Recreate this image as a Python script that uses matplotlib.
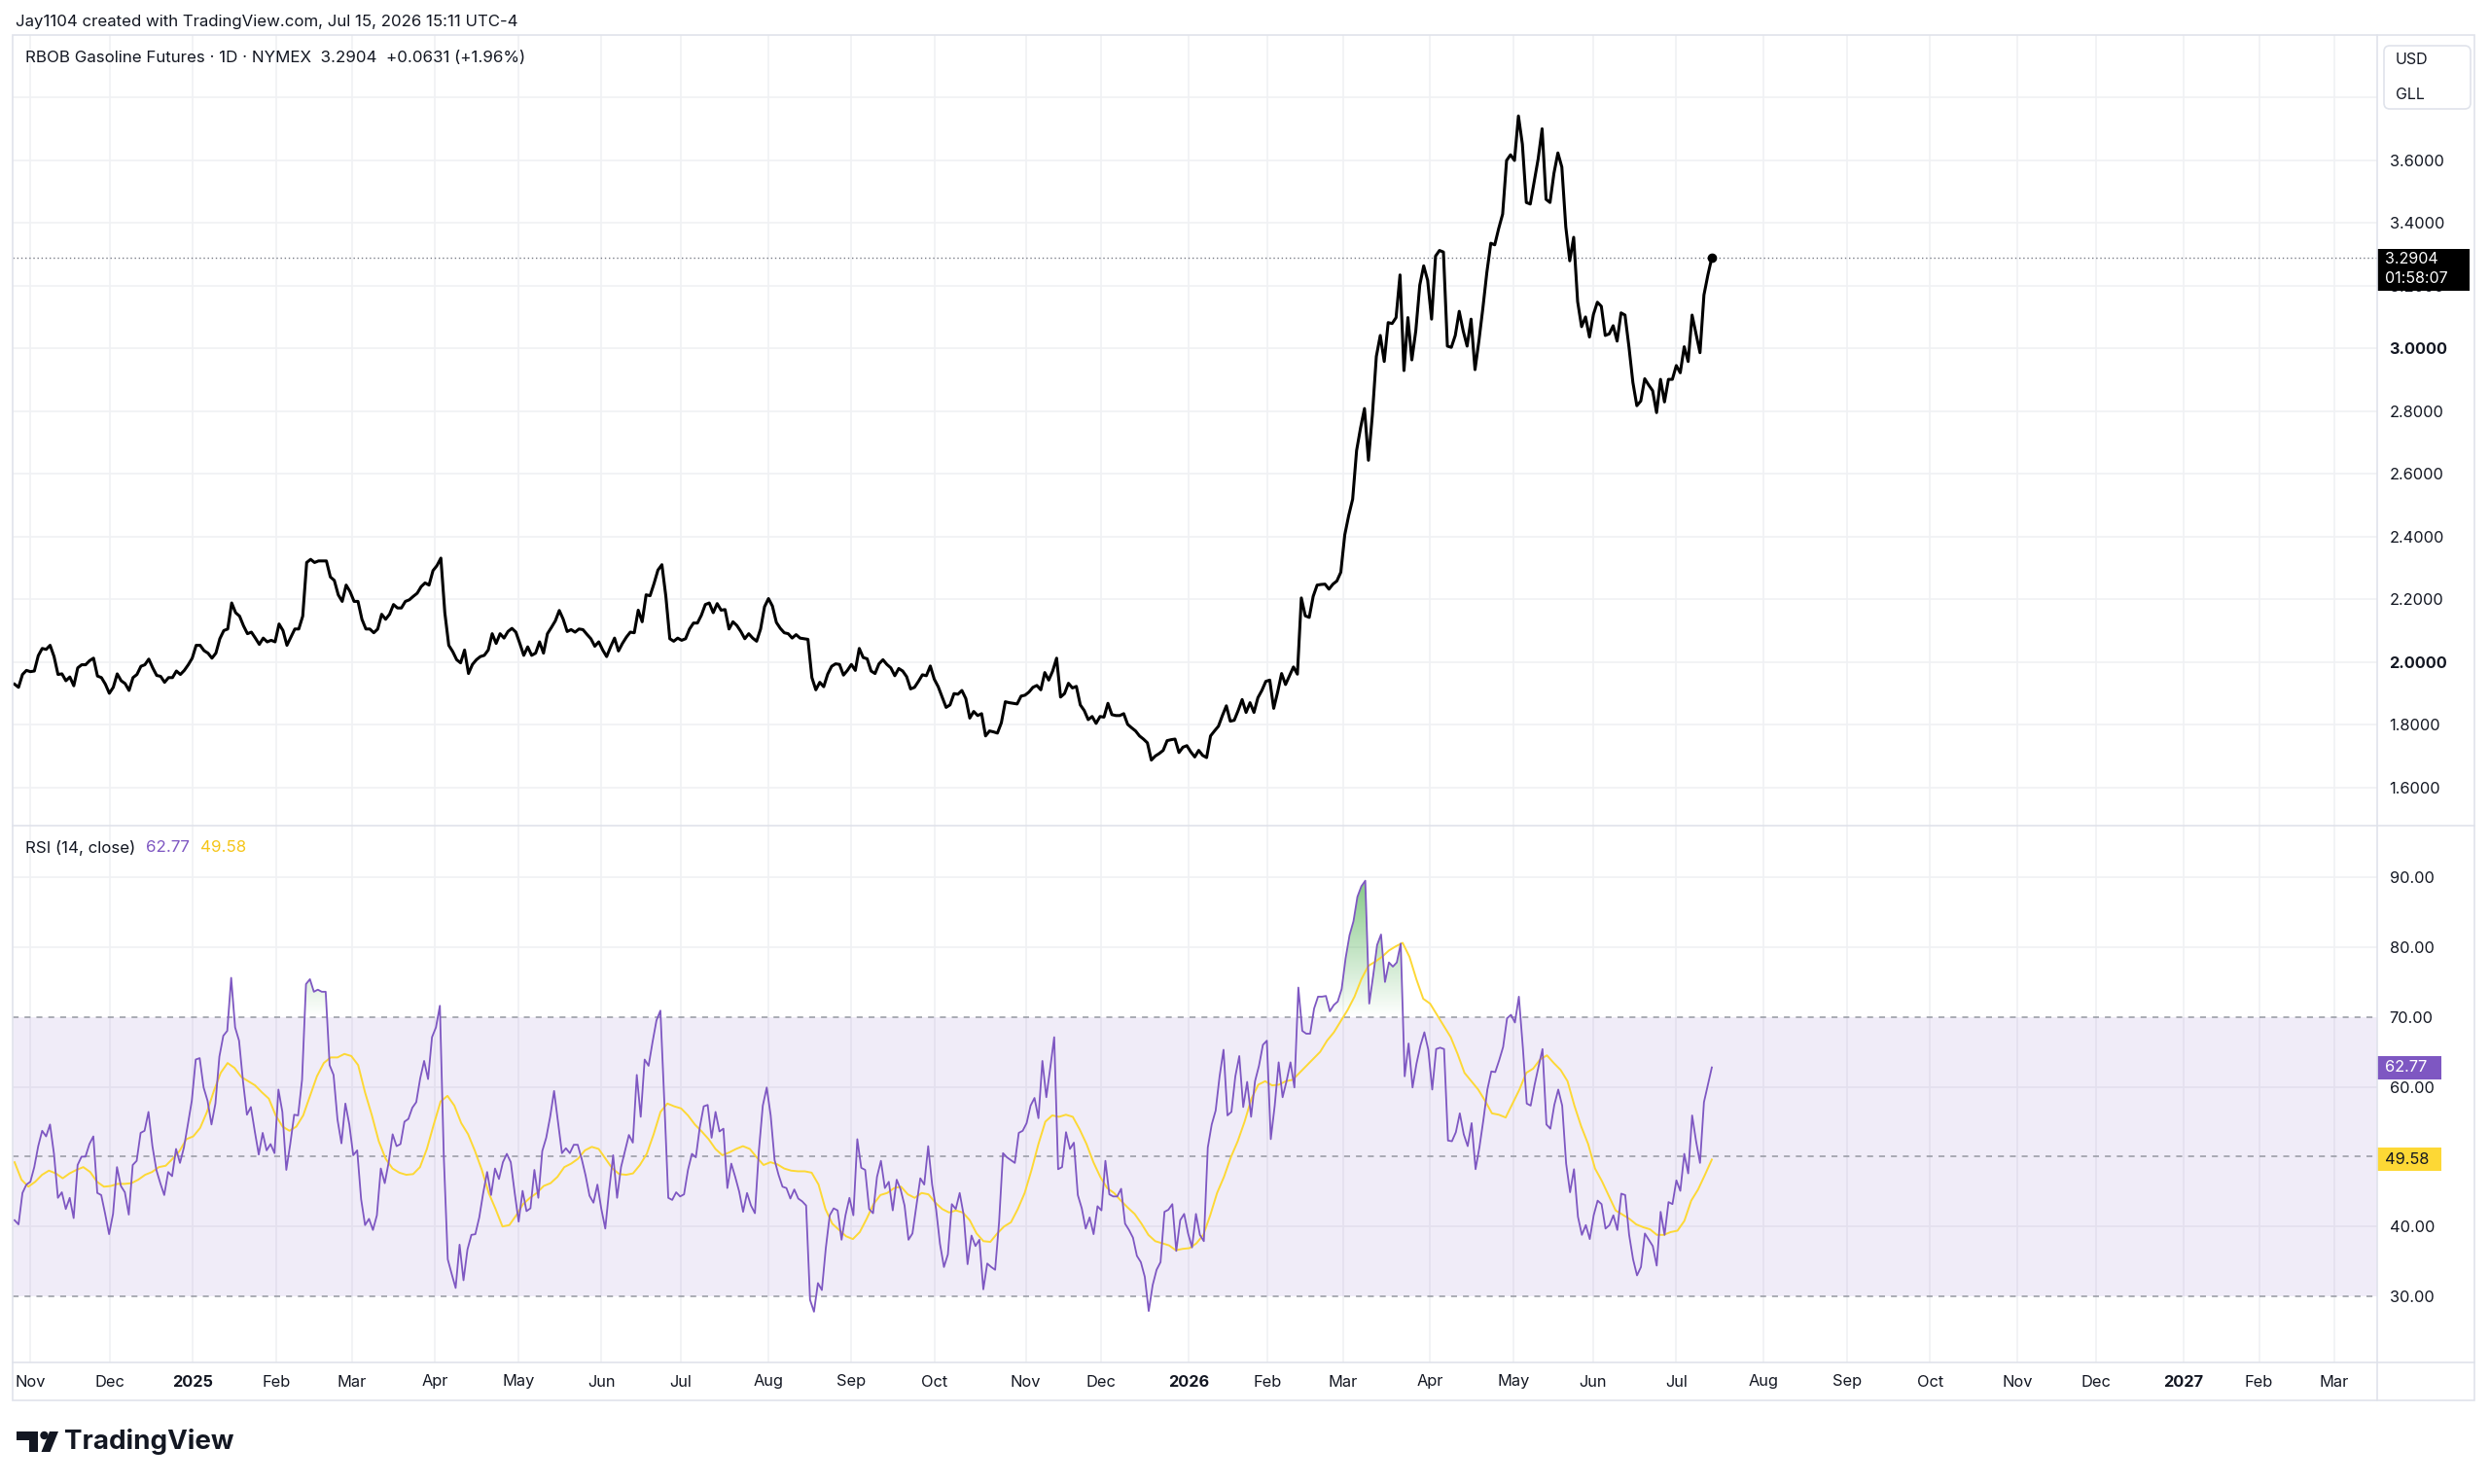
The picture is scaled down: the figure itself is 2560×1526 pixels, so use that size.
import matplotlib
matplotlib.use("Agg")
import matplotlib.pyplot as plt
import numpy as np
import pandas as pd
from matplotlib.patches import Rectangle, FancyBboxPatch, Polygon, Circle
from matplotlib.path import Path
from matplotlib.colors import LinearSegmentedColormap

plt.rcParams['font.family'] = ['Inter', 'DejaVu Sans']

# ---- data ----
first_day = "2024-10-28"
last_day = "2026-07-15"
axis_end = "2027-03-31"
holidays = ["2024-11-28", "2024-12-25", "2025-01-01", "2025-01-20", "2025-02-17",
            "2025-04-18", "2025-05-26", "2025-06-19", "2025-07-04", "2025-09-01",
            "2025-11-27", "2025-12-25", "2026-01-01", "2026-01-19", "2026-02-16",
            "2026-04-03", "2026-05-25", "2026-06-19", "2026-07-03", "2026-09-07",
            "2026-11-26", "2026-12-25", "2027-01-01", "2027-01-18", "2027-02-15"]
month_abbr = ["Jan", "Feb", "Mar", "Apr", "May", "Jun",
              "Jul", "Aug", "Sep", "Oct", "Nov", "Dec"]

# RBOB daily close, USD/gal
price = [
    1.930, 1.920, 1.961, 1.974, 1.970, 1.972, 2.021, 2.044, 2.041, 2.054,
    2.018, 1.961, 1.963, 1.941, 1.953, 1.925, 1.982, 1.992, 1.992, 2.005,
    2.013, 1.956, 1.951, 1.930, 1.901, 1.920, 1.963, 1.941, 1.932, 1.910,
    1.951, 1.961, 1.987, 1.992, 2.010, 1.982, 1.958, 1.955, 1.936, 1.951,
    1.951, 1.972, 1.961, 1.974, 1.992, 2.013, 2.054, 2.054, 2.037, 2.029,
    2.013, 2.029, 2.075, 2.101, 2.106, 2.189, 2.158, 2.147, 2.116, 2.091,
    2.096, 2.077, 2.057, 2.077, 2.065, 2.070, 2.065, 2.122, 2.101, 2.054,
    2.080, 2.106, 2.106, 2.147, 2.318, 2.328, 2.318, 2.323, 2.323, 2.323,
    2.272, 2.261, 2.215, 2.194, 2.246, 2.225, 2.194, 2.194, 2.137, 2.106,
    2.106, 2.094, 2.106, 2.153, 2.137, 2.153, 2.184, 2.173, 2.173, 2.194,
    2.199, 2.210, 2.220, 2.241, 2.253, 2.246, 2.292, 2.308, 2.332, 2.158,
    2.054, 2.034,
    2.008, 1.998, 2.039, 1.964, 1.993, 2.008, 2.018, 2.022, 2.039, 2.091,
    2.060, 2.091, 2.077, 2.098, 2.108, 2.096, 2.060, 2.022, 2.049, 2.022,
    2.029, 2.065, 2.029, 2.091, 2.111, 2.132, 2.165, 2.137, 2.098, 2.104,
    2.096, 2.106, 2.104, 2.089, 2.075, 2.051, 2.065, 2.039, 2.018, 2.049,
    2.077, 2.036, 2.060, 2.080, 2.096, 2.094, 2.166, 2.129, 2.215, 2.212,
    2.251, 2.294, 2.311, 2.210, 2.075, 2.067, 2.077, 2.070, 2.075, 2.106,
    2.125, 2.125, 2.150, 2.184, 2.189, 2.158, 2.187, 2.166, 2.168, 2.106,
    2.129, 2.117, 2.098, 2.075, 2.091, 2.077, 2.067, 2.106, 2.177, 2.203,
    2.179, 2.127, 2.108, 2.094, 2.091, 2.077, 2.088, 2.077, 2.075, 2.073,
    1.951, 1.912, 1.936, 1.922, 1.962, 1.987, 1.995, 1.993, 1.959, 1.974,
    1.993, 1.974, 2.044, 2.015, 2.011, 1.972, 1.964, 1.995, 2.008,
    1.993, 1.982, 1.957, 1.980, 1.972, 1.954, 1.915, 1.920, 1.939, 1.960,
    1.957, 1.988, 1.946, 1.922, 1.889, 1.856, 1.864, 1.900, 1.898, 1.910,
    1.884, 1.822, 1.843, 1.830, 1.836, 1.765, 1.781, 1.778, 1.774, 1.807,
    1.874, 1.871, 1.869, 1.867, 1.892, 1.895, 1.905, 1.920, 1.926, 1.912,
    1.967, 1.943, 1.972, 2.013, 1.889, 1.900, 1.933, 1.918, 1.923, 1.864,
    1.846, 1.817, 1.827, 1.805, 1.827, 1.825, 1.869, 1.833, 1.830, 1.830,
    1.836, 1.802, 1.791, 1.781, 1.765, 1.755, 1.743, 1.688, 1.701, 1.709,
    1.719, 1.750, 1.753, 1.755, 1.712, 1.729, 1.734, 1.714, 1.698, 1.719,
    1.703, 1.696, 1.765, 1.781, 1.796, 1.830, 1.861, 1.812, 1.815, 1.846,
    1.881, 1.840, 1.871, 1.840, 1.887, 1.910, 1.939, 1.943, 1.853, 1.905,
    1.964, 1.929, 1.957, 1.985, 1.962, 2.205, 2.148, 2.143,
    2.210, 2.246, 2.248, 2.249, 2.233, 2.249, 2.259, 2.287, 2.406, 2.468,
    2.520, 2.675, 2.747, 2.809, 2.644, 2.789, 2.975, 3.042, 2.959, 3.083,
    3.080,
    3.099, 3.235, 2.930, 3.099, 2.964, 3.057, 3.202, 3.264, 3.218, 3.094,
    3.295, 3.313, 3.308, 3.008, 3.004, 3.042, 3.119, 3.057, 3.008, 3.094,
    2.933, 3.026, 3.130, 3.243, 3.336, 3.331, 3.383, 3.429, 3.600, 3.618,
    3.600, 3.742, 3.652, 3.466, 3.461, 3.533, 3.605, 3.701, 3.476, 3.466,
    3.559, 3.624, 3.579, 3.388, 3.280, 3.355, 3.150, 3.070, 3.101, 3.037,
    3.109, 3.148, 3.135, 3.042, 3.047, 3.073, 3.024, 3.114, 3.107, 3.006,
    2.892, 2.818, 2.833, 2.904, 2.884, 2.866, 2.796, 2.902, 2.830, 2.902,
    2.902, 2.946, 2.923, 3.006, 2.959, 3.107, 3.047, 2.987, 3.171, 3.235,
    3.2904,
]

# RSI(14, close)
rsi = [
    40.9, 40.3, 44.8, 46.0, 46.4, 48.5, 51.5, 53.7, 52.9, 54.6,
    50.4, 44.1, 44.9, 42.5, 44.1, 41.2, 48.8, 50.0, 50.0, 51.8,
    52.9, 44.8, 44.5, 41.8, 38.9, 41.8, 48.5, 45.8, 44.9, 41.7,
    48.8, 49.4, 53.4, 53.7, 56.4, 51.5, 48.1, 46.2, 44.5, 47.8,
    47.2, 51.1, 49.1, 51.3, 54.6, 58.0, 63.9, 64.1, 59.9, 58.0,
    54.6, 57.6, 64.3, 67.3, 68.0, 75.6, 68.5, 66.6, 60.8, 56.0,
    57.1, 53.6, 50.3, 53.4, 50.9, 51.8, 50.5, 59.6, 56.4, 48.1,
    51.8, 56.0, 55.9, 61.0, 74.7, 75.4, 73.6, 73.9, 73.6, 73.6,
    63.1, 61.7, 55.3, 51.9, 57.6, 54.6, 50.2, 50.9, 43.9, 40.2,
    41.1, 39.5, 41.6, 48.3, 46.2, 49.2, 53.2, 51.5, 51.8, 55.0,
    55.4, 57.0, 57.8, 61.2, 63.7, 61.1, 67.1, 68.5, 71.6, 49.9,
    35.3, 33.2, 31.2, 37.4, 32.3, 36.7, 38.8, 38.9, 41.3, 44.8,
    47.8, 44.5, 48.3, 46.8, 49.2, 50.4, 49.2, 44.8, 40.7, 45.1,
    42.2, 42.6, 48.1, 44.1, 50.8, 52.7, 55.7, 59.4, 55.0, 50.5,
    51.2, 50.5, 51.7, 51.7, 49.7, 47.3, 44.4,
    43.4, 46.0, 42.5, 39.7, 45.3, 50.2, 44.1, 48.5, 50.8, 53.1,
    52.0, 61.7, 55.7, 63.9, 63.0, 66.4, 69.5, 70.9, 57.8, 44.1,
    43.8, 44.9, 44.3, 44.6, 48.1, 50.4, 49.9, 54.2, 57.2, 57.4,
    52.7, 56.4, 53.6, 54.0, 45.5, 49.0, 47.1, 45.0, 42.1, 44.8,
    43.0, 41.9, 50.8, 57.3, 59.9, 55.9, 49.5, 47.4, 45.7, 45.5,
    44.0, 45.3, 44.0, 43.6, 43.0, 29.5, 27.8, 31.9, 30.9, 36.9,
    41.6, 42.6, 42.3, 38.1, 41.6, 44.1, 41.6, 52.5, 48.4, 48.1,
    42.5, 41.9, 47.1, 49.4, 45.5, 46.4, 42.3, 46.7, 45.3, 43.0,
    38.1, 39.0, 43.0, 46.9, 46.0, 51.5, 46.0, 42.5, 37.5, 34.2,
    36.0, 43.2, 42.5, 44.8, 41.7, 34.6, 38.7, 37.2, 38.1, 31.0,
    34.7, 34.2, 33.8, 40.6, 50.5, 49.9, 49.5, 49.1, 53.4, 53.7,
    54.8, 57.3, 58.4, 55.5, 63.7, 58.5, 62.7, 67.1, 48.2, 48.5,
    53.5, 51.1, 52.0, 44.5, 42.6, 39.7, 41.3, 38.9, 42.9, 42.3,
    49.4, 44.6, 44.3, 44.3, 45.4, 40.4, 39.5, 38.4, 35.8, 34.9,
    32.8, 27.9, 31.6, 33.8,
    34.9, 42.1, 42.4, 43.2, 36.5, 40.9, 41.8, 39.0, 37.0, 41.8,
    38.8, 37.9, 51.3, 54.6, 56.6, 61.5, 65.3, 55.9, 56.4, 61.5,
    64.4, 57.1, 60.7, 55.7, 60.8, 63.0, 66.0, 66.6, 52.5, 57.3,
    63.5, 58.5, 60.8, 63.5, 59.9, 74.2, 68.0, 67.6, 67.6, 71.2,
    72.9, 72.9, 73.0, 70.8, 71.7, 72.2, 74.0, 78.4, 81.7, 83.7,
    87.2, 88.7, 89.5, 71.9, 75.9, 80.3, 81.8, 75.0, 77.8, 77.2,
    77.8, 80.5, 61.5, 66.2, 59.9, 63.3, 65.9, 67.8, 65.3, 59.6,
    65.4, 65.6, 65.4, 52.3, 52.2, 53.5, 56.2, 53.2, 51.5, 54.8,
    48.2, 51.4, 55.3, 59.6, 62.2, 62.1, 63.8, 65.7, 69.8, 70.3,
    69.2, 72.9, 65.7, 57.6, 57.3, 60.3, 62.9, 65.4, 54.6, 54.0,
    57.4, 59.6, 57.3, 49.0, 44.9, 48.2, 41.4, 38.8, 40.2, 38.2,
    41.6, 43.7, 43.2, 39.7, 40.2, 41.6, 39.5, 44.7, 44.5, 38.8,
    35.3, 33.0, 34.2, 39.0, 38.1, 37.2, 34.4, 42.1, 38.8, 43.5,
    43.2, 46.6, 45.1, 50.4, 47.6, 55.9, 52.2, 49.1, 57.8, 60.3,
    62.77,
]

# RSI-based moving average
rsi_ma = [
    49.2, 46.7, 45.7, 46.4, 47.4, 48.0, 47.6, 46.9, 47.6, 48.1,
    48.5, 47.8, 46.4, 45.7, 45.8, 46.1, 46.1, 46.2, 46.7, 47.4,
    47.8, 48.5, 48.7, 49.7, 50.8, 52.5, 52.9, 54.1, 56.4, 59.4,
    62.0, 63.4, 62.7, 61.4, 60.8, 60.2, 59.2, 58.3, 55.9, 54.3,
    53.7, 54.3, 55.9, 58.7, 61.5, 63.4, 64.2, 64.2, 64.7, 64.4,
    63.1, 59.2, 55.9, 52.2, 49.7, 48.3, 47.7, 47.4, 47.5, 48.5,
    51.1, 54.6, 57.9, 58.7, 57.3, 54.8, 53.2, 50.8, 48.1, 44.8,
    42.5, 40.0, 40.2, 41.6, 43.2, 44.1, 44.8, 45.8, 46.2, 47.1,
    48.5, 49.0, 49.7, 50.9, 51.4,
    51.1, 49.7, 48.3, 47.5, 47.4, 47.6, 48.8, 50.4, 53.2, 56.4,
    57.6, 57.2, 56.9, 55.9, 54.6, 53.6, 52.5, 51.1, 50.2, 50.6,
    51.1, 51.5, 51.1, 49.9, 48.8, 49.2, 48.9, 48.3, 48.0, 47.9,
    47.9, 47.7, 46.0, 42.5, 40.4, 39.5, 38.6, 38.2, 39.2, 41.1,
    43.2, 44.5, 44.8, 45.5, 45.7, 44.6, 44.1, 44.8, 44.6, 43.4,
    42.5, 42.0, 42.3, 42.0, 40.9, 39.0, 37.9, 37.8, 39.0, 40.0,
    40.6, 42.5, 44.8, 48.1, 51.8, 55.0, 55.9, 55.7, 56.0, 55.7,
    53.9, 51.8, 49.2, 47.1, 45.5, 44.8, 43.7, 42.7, 41.8, 40.4,
    38.8, 37.9,
    37.6, 37.3, 36.6, 36.8, 36.9, 37.6, 38.8, 41.6, 44.8, 47.1,
    49.9, 52.2, 55.0, 58.3, 60.3, 60.8, 60.2, 60.3, 60.8, 61.0,
    62.0, 63.0, 64.0, 65.0, 66.6, 67.8, 69.4, 71.0, 72.9, 75.4,
    77.3, 77.9, 78.6, 79.5, 80.1, 80.6, 78.6, 75.4, 72.6, 71.9,
    70.3, 68.7, 67.1, 64.7, 62.0, 60.8, 59.6, 58.0, 56.2, 56.0,
    55.6, 57.6, 59.6, 62.0, 62.6, 63.9, 64.5, 63.4, 62.4, 60.8,
    57.3, 54.3, 51.8, 48.3, 46.5, 44.4, 42.3, 41.7, 41.1, 40.3,
    39.9, 39.6, 38.8, 38.8, 39.2, 39.4, 40.8, 43.7, 45.3, 47.4,
    49.58,
]

# ---- layout, in pixels of the 2560x1526 output ----
W, H = 2560, 1526
left_px, plot_right_px, frame_right_px = 13, 2444, 2544
top_px, split_px, rsi_bottom_px, frame_bottom_px = 36, 849, 1401, 1440
bar0_px, bar_px = 15, 4.077

txt_c = '#131722'
grid_c = '#f0f1f4'
line_c = '#e0e3eb'
purple = '#7e57c2'
yellow = '#fdd835'

days = pd.bdate_range(first_day, axis_end, freq='C', holidays=holidays)
n_data = days.get_loc(pd.Timestamp(last_day)) + 1
x_price = np.linspace(0, n_data - 1, len(price))
x_rsi = np.linspace(0, n_data - 1, len(rsi))
x_ma = np.linspace(0, n_data - 1, len(rsi_ma))

ym = days.year * 12 + days.month
month_idx = np.flatnonzero(np.r_[True, np.diff(ym) != 0])
month_idx = month_idx[1:]  # first bucket is the partial October
month_lbl = [str(days[i].year) if days[i].month == 1 else month_abbr[days[i].month - 1]
             for i in month_idx]

fig = plt.figure(figsize=(W / 100, H / 100), dpi=100)
fig.patch.set_facecolor('white')

axw = (plot_right_px - left_px) / W
ax1 = fig.add_axes([left_px / W, 1 - split_px / H, axw, (split_px - top_px) / H])
ax2 = fig.add_axes([left_px / W, 1 - rsi_bottom_px / H, axw, (rsi_bottom_px - split_px) / H])

xlim = ((left_px - bar0_px) / bar_px, (plot_right_px - bar0_px) / bar_px)

for ax in (ax1, ax2):
    ax.set_facecolor('white')
    for s in ax.spines.values():
        s.set_visible(False)
    for i in month_idx:
        ax.axvline(i, color=grid_c, lw=1.2, zorder=0)
    ax.yaxis.tick_right()
    ax.tick_params(axis='y', length=0, pad=9, labelsize=11.8, labelcolor=txt_c)

# ---- price pane ----
for v in np.arange(1.6, 3.81, 0.2):
    ax1.axhline(v, color=grid_c, lw=1.2, zorder=0)
ax1.plot(x_price, price, color='black', lw=2.2, zorder=3, solid_joinstyle='round')
ax1.plot(x_price[-1], price[-1], 'o', color='black', ms=6, zorder=4)
ax1.axhline(price[-1], color='#787b86', lw=1, ls=(0, (1, 2)), zorder=2)
ax1.set_ylim(1.479, 4.0)
ax1.set_xlim(*xlim)
ax1.set_xticks([])
pticks = np.round(np.arange(1.6, 3.61, 0.2), 1)
ax1.set_yticks(pticks)
ax1.set_yticklabels([f"{v:.4f}" for v in pticks])
for lab, v in zip(ax1.get_yticklabels(), pticks):
    if abs(v - round(v)) < 1e-6:
        lab.set_fontweight('bold')

# ---- RSI pane ----
for v in (40, 60, 80, 90):
    ax2.axhline(v, color=grid_c, lw=1.2, zorder=0)
ax2.axhspan(30, 70, color=purple, alpha=0.11, lw=0, zorder=0.5)
for v in (70, 50, 30):
    ax2.axhline(v, color='#9598a1', lw=1.1, ls=(0, (4, 4)), zorder=1)

rsi_arr = np.array(rsi)
for lim, top, rgb, cond in ((70, 90, (0.30, 0.69, 0.31), rsi_arr > 70),
                            (30, 10, (0.95, 0.21, 0.27), rsi_arr < 30)):
    area = ax2.fill_between(x_rsi, rsi_arr, lim, where=cond, interpolate=True,
                            facecolor='none', edgecolor='none')
    paths = area.get_paths()
    if not paths:
        continue
    grad = np.linspace(0, 1, 256).reshape(-1, 1)
    cmap = LinearSegmentedColormap.from_list('g', [(*rgb, 0.0), (*rgb, 0.7)])
    im = ax2.imshow(grad, extent=(0, n_data, lim, top), origin='lower', aspect='auto',
                    cmap=cmap, interpolation='bilinear', zorder=1.5)
    im.set_clip_path(Path.make_compound_path(*paths), transform=ax2.transData)

ax2.plot(x_ma, rsi_ma, color=yellow, lw=1.4, zorder=2)
ax2.plot(x_rsi, rsi, color=purple, lw=1.3, zorder=3)
ax2.set_xlim(*xlim)
ax2.set_ylim(20.54, 97.38)
rticks = [30, 40, 50, 60, 70, 80, 90]
ax2.set_yticks(rticks)
ax2.set_yticklabels([f"{v:.2f}" for v in rticks])
ax2.set_xticks(month_idx)
ax2.set_xticklabels(month_lbl)
ax2.tick_params(axis='x', length=0, pad=9, labelsize=11.8, labelcolor=txt_c)
for lab in ax2.get_xticklabels():
    if lab.get_text().isdigit():
        lab.set_fontweight('bold')

# ---- overlay in pixel coordinates ----
deco = fig.add_axes([0, 0, 1, 1], zorder=10)
deco.set_xlim(0, W)
deco.set_ylim(H, 0)
deco.axis('off')
deco.patch.set_alpha(0)


def ypix(ax, v):
    return H - ax.transData.transform((0, v))[1]


deco.add_patch(Rectangle((left_px, top_px), frame_right_px - left_px,
                         frame_bottom_px - top_px, fill=False, ec=line_c, lw=1.2))
deco.plot([left_px, frame_right_px], [split_px, split_px], color=line_c, lw=1.2)
deco.plot([left_px, frame_right_px], [rsi_bottom_px, rsi_bottom_px], color=line_c, lw=1.2)
deco.plot([plot_right_px, plot_right_px], [top_px, frame_bottom_px], color=line_c, lw=1.2)

deco.text(16, 23, "Jay1104 created with TradingView.com, Jul 15, 2026 15:11 UTC-4",
          fontsize=12.1, color=txt_c, va='center', ha='left')
deco.text(26, 60, "RBOB Gasoline Futures · 1D · NYMEX  3.2904  +0.0631 (+1.96%)",
          fontsize=12.2, color=txt_c, va='center', ha='left')
deco.text(26, 872, "RSI (14, close)", fontsize=12.2, color=txt_c, va='center', ha='left')
deco.text(150, 872, f"{rsi[-1]:.2f}", fontsize=12.2, color=purple, va='center', ha='left')
deco.text(206, 872, f"{rsi_ma[-1]:.2f}", fontsize=12.2, color='#f5c518', va='center', ha='left')

# currency / unit box
deco.add_patch(FancyBboxPatch((2451, 47), 89, 65, boxstyle="round,pad=0,rounding_size=6",
                              fc='white', ec=line_c, lw=1.2))
deco.text(2463, 61, "USD", fontsize=11.5, color=txt_c, va='center')
deco.text(2463, 97, "GLL", fontsize=11.5, color=txt_c, va='center')

# last price tag
yp = ypix(ax1, price[-1])
deco.add_patch(Rectangle((plot_right_px, yp - 9), 95, 43, color='black', lw=0))
deco.text(2452, yp + 2, f"{price[-1]:.4f}", fontsize=11.5, color='white', va='center')
deco.text(2452, yp + 22, "01:58:07", fontsize=11.5, color='white', va='center')

# RSI value tags
for val, fc, tc in ((rsi[-1], purple, 'white'), (rsi_ma[-1], yellow, txt_c)):
    yv = ypix(ax2, val)
    deco.add_patch(Rectangle((plot_right_px, yv - 12), 66, 24, color=fc, lw=0))
    deco.text(2452, yv, f"{val:.2f}", fontsize=11.8, color=tc, va='center')

# TradingView logo
logo_c = '#131722'
deco.add_patch(Rectangle((17, 1472), 22, 8.5, color=logo_c, lw=0))
deco.add_patch(Rectangle((29.5, 1472), 9.5, 21, color=logo_c, lw=0))
deco.add_patch(Circle((45.5, 1476), 4.2, color=logo_c, lw=0))
deco.add_patch(Polygon([(51, 1472), (60, 1472), (51.5, 1493), (42.5, 1493)],
                       closed=True, color=logo_c, lw=0))
deco.text(66, 1483, "TradingView", fontsize=20, fontweight='bold', color=logo_c,
          va='center', ha='left')

fig.savefig("out.png", dpi=100, facecolor='white')
